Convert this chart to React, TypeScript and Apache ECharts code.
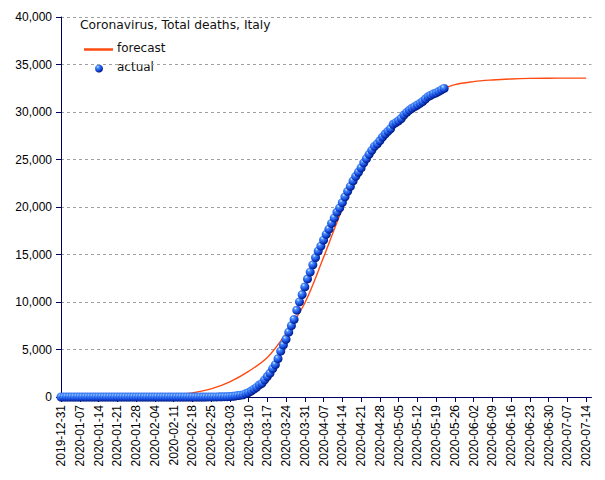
import React, { useEffect, useRef } from 'react';
import * as echarts from 'echarts';

// Daily category axis: 2019-12-31 .. 2020-07-16
const firstDay = Date.UTC(2019, 11, 31);
const dayCount = 199;
function buildDays(t0: number, n: number): string[] {
  const out: string[] = [];
  for (let i = 0; i < n; i++) out.push(new Date(t0 + i * 86400000).toISOString().slice(0, 10));
  return out;
}
const categories = buildDays(firstDay, dayCount);

// Actual total deaths, daily from 2019-12-31 to 2020-05-22
const actualDeaths = [
  0, 0, 0, 0, 0, 0, 0, 0, 0, 0,
  0, 0, 0, 0, 0, 0, 0, 0, 0, 0,
  0, 0, 0, 0, 0, 0, 0, 0, 0, 0,
  0, 0, 0, 0, 0, 0, 0, 0, 0, 0,
  0, 0, 0, 0, 0, 0, 0, 0, 0, 0,
  0, 0, 0,
  1, 2, 3, 7, 10, 12, 17, 21, 29, 34,
  52, 79, 107, 148, 197, 233, 366, 463, 631, 827,
  1016, 1266, 1441, 1809, 2158, 2503, 2978, 3405, 4032, 4825,
  5476, 6077, 6820, 7503, 8165, 9134, 10023, 10779, 11591, 12428,
  13155, 13915, 14681, 15362, 15887, 16523, 17127, 17669, 18279, 18849,
  19468, 19899, 20465, 21067, 21645, 22170, 22745, 23227, 23660, 24114,
  24648, 25085, 25549, 25969, 26384, 26644, 26977, 27359, 27682, 27967,
  28236, 28710, 28884, 29079, 29315, 29684, 29958, 30201, 30395, 30560,
  30739, 30911, 31106, 31368, 31610, 31763, 31908, 32007, 32169, 32330,
  32486,
];

// Forecast curve
const forecastDates = [
  '2019-12-31', '2020-01-07', '2020-01-14', '2020-01-21', '2020-01-28', '2020-02-04',
  '2020-02-11', '2020-02-18', '2020-02-25', '2020-03-03', '2020-03-10', '2020-03-17',
  '2020-03-24', '2020-03-31', '2020-04-07', '2020-04-14', '2020-04-21', '2020-04-28',
  '2020-05-05', '2020-05-12', '2020-05-19', '2020-05-26', '2020-06-02', '2020-06-09',
  '2020-06-16', '2020-06-23', '2020-06-30', '2020-07-07', '2020-07-14',
];
const forecastValues = [
  0, 1, 3, 10, 30, 80,
  190, 420, 850, 1600, 2700, 4150,
  6700, 9900, 14700, 19800, 24000, 27000,
  29300, 31000, 32150, 32880, 33200, 33370,
  33480, 33540, 33560, 33565, 33565,
];

const yTicks = { min: 0, max: 40000, interval: 5000 };

const titleText = 'Coronavirus, Total deaths, Italy';
const legendNames = ['forecast', 'actual'];

const lineColor = '#ff4a10';
const axisColor = '#000060';

function sphere() {
  return new echarts.graphic.RadialGradient(0.35, 0.3, 0.7, [
    { offset: 0, color: '#e6f3ff' },
    { offset: 0.22, color: '#4a90ff' },
    { offset: 0.7, color: '#1446d8' },
    { offset: 1, color: '#001a80' },
  ]);
}

export default function App() {
  const ref = useRef<HTMLDivElement>(null);
  useEffect(() => {
    if (!ref.current) return;
    const chart = echarts.init(ref.current, null, { renderer: 'svg' });
    const labelFont = 'Liberation Sans, Arial, sans-serif';
    const textFont = 'DejaVu Sans, sans-serif';
    chart.setOption({
      animation: false,
      backgroundColor: '#ffffff',
      grid: { left: 61, right: 13.5, top: 17, bottom: 83, containLabel: false },
      xAxis: {
        type: 'category',
        data: categories,
        boundaryGap: false,
        axisLine: { lineStyle: { color: axisColor, width: 1 } },
        axisTick: { interval: 6, length: 5, lineStyle: { color: axisColor } },
        axisLabel: {
          interval: 6,
          rotate: 90,
          margin: 8,
          color: '#000',
          fontSize: 12,
          fontFamily: labelFont,
        },
        splitLine: { show: false },
      },
      yAxis: {
        type: 'value',
        min: yTicks.min,
        max: yTicks.max,
        interval: yTicks.interval,
        axisLine: { show: true, lineStyle: { color: axisColor, width: 1 } },
        axisTick: { show: true, length: 5, lineStyle: { color: axisColor } },
        axisLabel: {
          margin: 9,
          color: '#000',
          fontSize: 12,
          fontFamily: labelFont,
          formatter: (v: number) => v.toLocaleString('en-US'),
        },
        splitLine: { show: true, lineStyle: { color: '#a0a0a0', type: [3, 3], width: 1 } },
      },
      series: [
        {
          name: legendNames[0],
          type: 'line',
          data: forecastDates.map((d, i) => [d, forecastValues[i]]),
          smooth: 0.35,
          showSymbol: false,
          symbol: 'none',
          lineStyle: { color: lineColor, width: 1.4 },
          z: 2,
        },
        {
          name: legendNames[1],
          type: 'scatter',
          data: actualDeaths.map((v, i) => [categories[i], v]),
          symbol: 'circle',
          symbolSize: 9,
          itemStyle: { color: sphere(), opacity: 1 },
          z: 3,
        },
      ],
      graphic: [
        {
          type: 'text',
          left: 80,
          top: 19,
          style: { text: titleText, font: `12.3px ${textFont}`, fill: '#111' },
        },
        {
          type: 'line',
          shape: { x1: 84, y1: 49.5, x2: 113, y2: 49.5 },
          style: { stroke: lineColor, lineWidth: 2.5 },
        },
        {
          type: 'text',
          left: 117,
          top: 42,
          style: { text: legendNames[0], font: `12px ${textFont}`, fill: '#111' },
        },
        {
          type: 'circle',
          shape: { cx: 99, cy: 68.5, r: 4 },
          style: { fill: sphere() },
        },
        {
          type: 'text',
          left: 117,
          top: 61,
          style: { text: legendNames[1], font: `12px ${textFont}`, fill: '#111' },
        },
      ],
    });
    return () => chart.dispose();
  }, []);
  return <div ref={ref} style={{ width: 605, height: 480, position: 'absolute', left: 0, top: 0 }} />;
}
